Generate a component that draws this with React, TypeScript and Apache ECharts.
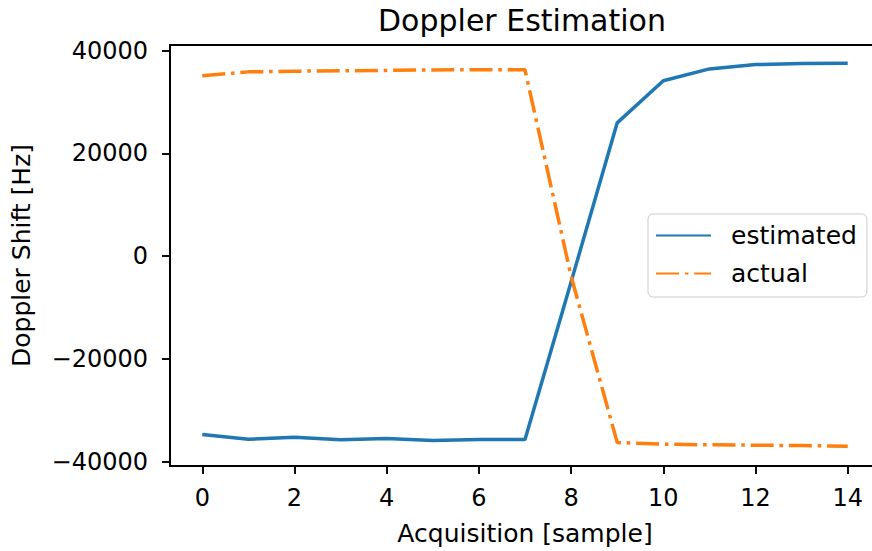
import React, { useEffect, useRef } from "react";
import * as echarts from "echarts";

const samples = [0, 1, 2, 3, 4, 5, 6, 7, 8, 9, 10, 11, 12, 13, 14];
const estimated = [-34710, -35620, -35230, -35740, -35480, -35870, -35680, -35680, -5000, 25950, 34130, 36450, 37290, 37480, 37560];
const actual = [35100, 35870, 36000, 36070, 36150, 36250, 36300, 36260, -3900, -36260, -36580, -36710, -36780, -36850, -36970];
const xTicks = [0, 2, 4, 6, 8, 10, 12, 14];
const yTicks = [-40000, -20000, 0, 20000, 40000];

const FONT = "DejaVu Sans";
const F = 24;
const FN = 25;

export default function App() {
  const ref = useRef<HTMLDivElement>(null);
  useEffect(() => {
    const chart = echarts.init(ref.current!, null, { renderer: "svg" });
    chart.setOption({
      animation: false,
      backgroundColor: "#ffffff",
      textStyle: { fontFamily: FONT, color: "#000" },
      title: {
        text: "Doppler Estimation",
        left: 378,
        top: 5,
        padding: 0,
        textStyle: { fontFamily: FONT, fontSize: 30, fontWeight: "normal", color: "#000" },
      },
      grid: { left: 170, right: 0, top: 45, bottom: 83, show: true, borderColor: "#000", borderWidth: 1.9, backgroundColor: "transparent" },
      legend: {
        orient: "vertical",
        left: 648,
        top: 214,
        padding: [9, 10, 11, 7],
        itemWidth: 55,
        itemHeight: 14,
        itemGap: 13,
        borderColor: "#cccccc",
        borderWidth: 1,
        borderRadius: 5,
        backgroundColor: "rgba(255,255,255,0.8)",
        itemStyle: { opacity: 0 },
        textStyle: { fontFamily: FONT, fontSize: FN, color: "#000", padding: [0, 0, 0, 15] },
        data: ["estimated", "actual"],
      },
      xAxis: {
        type: "value",
        min: -0.7,
        max: 14.7,
        name: "Acquisition [sample]",
        nameLocation: "middle",
        nameGap: 55,
        nameTextStyle: { fontFamily: FONT, fontSize: FN, color: "#000" },
        splitLine: { show: false },
        axisLine: { show: true, onZero: false, lineStyle: { color: "#000", width: 1.9 } },
        axisTick: { show: true, inside: false, length: 8, customValues: xTicks, lineStyle: { color: "#000", width: 1.9 } },
        axisLabel: { customValues: xTicks, margin: 20, fontFamily: FONT, fontSize: F, color: "#000" },
      },
      yAxis: {
        type: "value",
        min: -40830,
        max: 41100,
        name: "Doppler Shift [Hz]",
        nameLocation: "middle",
        nameGap: 136,
        nameTextStyle: { fontFamily: FONT, fontSize: FN, color: "#000" },
        splitLine: { show: false },
        axisLine: { show: true, onZero: false, lineStyle: { color: "#000", width: 1.9 } },
        axisTick: { show: true, inside: false, length: 8, customValues: yTicks, lineStyle: { color: "#000", width: 1.9 } },
        axisLabel: {
          customValues: yTicks,
          margin: 22,
          fontFamily: FONT,
          fontSize: F,
          color: "#000",
          formatter: (v: number) => (v < 0 ? "\u2212" + Math.abs(v) : String(v)),
        },
      },
      series: [
        {
          name: "estimated",
          type: "line",
          symbol: "none",
          data: samples.map((s, i) => [s, estimated[i]]),
          lineStyle: { color: "#1f77b4", width: 3.5 },
          itemStyle: { color: "#1f77b4" },
        },
        {
          name: "actual",
          type: "line",
          symbol: "none",
          data: samples.map((s, i) => [s, actual[i]]),
          lineStyle: { color: "#ff7f0e", width: 3.5, type: [23, 5.8, 3.6, 5.8] },
          itemStyle: { color: "#ff7f0e" },
        },
      ],
    });
    return () => chart.dispose();
  }, []);
  return (
    <div style={{ position: "fixed", left: 0, top: 0, width: 872, height: 551, overflow: "hidden" }}>
      <div ref={ref} style={{ width: 880, height: 551 }} />
    </div>
  );
}
